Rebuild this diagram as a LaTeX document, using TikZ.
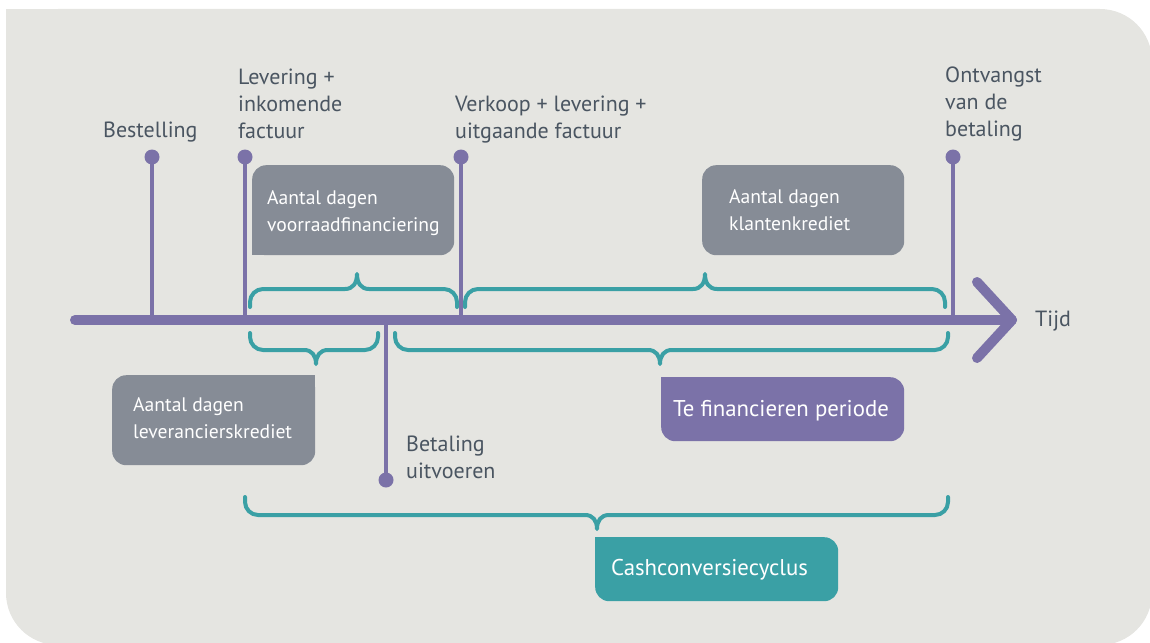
\documentclass[tikz,border=0pt]{standalone}
\usepackage{fontspec}
\setmainfont{PT Sans}
\definecolor{bgc}{HTML}{E5E5E1}
\definecolor{pur}{HTML}{7B72A8}
\definecolor{tl}{HTML}{3AA0A5}
\definecolor{gbox}{HTML}{868C96}
\definecolor{txt}{HTML}{4A5561}
% #1 left x, #2 right x, #3 tip x, #4 end y, #5 line y, #6 tip y, #7 signed corner radius (towards ends)
\newcommand\mybrace[7]{%
  \draw[brc] (#1,#4) -- (#1,{#5+#7})
    .. controls (#1,{#5+0.45*#7}) and ({#1+0.45*13},#5) .. ({#1+13},#5)
    -- ({#3-12},#5)
    .. controls ({#3-4},#5) and (#3,{#5+0.4*(#6-#5)}) .. (#3,#6)
    .. controls (#3,{#5+0.4*(#6-#5)}) and ({#3+4},#5) .. ({#3+12},#5)
    -- ({#2-13},#5)
    .. controls ({#2-0.45*13},#5) and (#2,{#5+0.45*#7}) .. (#2,{#5+#7})
    -- (#2,#4);}
\begin{document}
\begin{tikzpicture}[x=1pt,y=-1pt,
  lbl/.style={anchor=north west, inner sep=0pt, align=left, text=txt, font=\fontsize{22}{27}\selectfont},
  btxt/.style={anchor=west, inner sep=0pt, align=left, text=white, font=\fontsize{19.6}{27}\selectfont},
  ctxt/.style={anchor=west, inner sep=0pt, text=white, font=\fontsize{22.8}{27}\selectfont},
  gbx/.style={anchor=north west, fill=gbox, rounded corners=14pt, inner sep=0pt},
  brc/.style={draw=tl, line width=4pt, line cap=round, line join=round},
  vline/.style={draw=pur, line width=4pt},
  dot/.style={circle, fill=pur, minimum size=15pt, inner sep=0pt},
  axisline/.style={draw=pur, line width=10pt, line cap=round, line join=round}]
\useasboundingbox (0,0) rectangle (1150,642);
\begin{scope}
  \clip (0,0) rectangle (1150,642);
  \fill[bgc, rounded corners=52pt] (6,9) rectangle (1152,645);
  \fill[bgc] (6,9) rectangle (100,100);
\end{scope}

% boxes
\node[gbx, minimum width=202pt, minimum height=90pt] (vf) at (252,165) {};
\fill[gbox] (vf.south west) rectangle ++(16,-16);
\node[btxt] (vft) at ([xshift=15pt,yshift=-2.5pt]vf.west) {Aantal dagen\\voorraadfinanciering};

\node[gbx, minimum width=202pt, minimum height=90pt] (kk) at (702,165) {};
\node[btxt] (kkt) at ([xshift=27pt]kk.west) {Aantal dagen\\klantenkrediet};

\node[gbx, minimum width=203pt, minimum height=90pt] (lk) at (112,375) {};
\fill[gbox] (lk.north east) rectangle ++(-16,16);
\node[btxt] (lkt) at ([xshift=21pt,yshift=2.5pt]lk.west) {Aantal dagen\\leverancierskrediet};

\node[gbx, fill=pur, minimum width=243pt, minimum height=64pt] (tf) at (661,377) {};
\fill[pur] (tf.north west) rectangle ++(16,16);
\node[ctxt] (tft) at ([xshift=12pt,yshift=-1.5pt]tf.west) {Te financieren periode};

\node[gbx, fill=tl, minimum width=243pt, minimum height=64pt] (cc) at (595,537) {};
\fill[tl] (cc.north west) rectangle ++(16,16);
\node[ctxt] (cct) at ([xshift=16pt,yshift=-1pt]cc.west) {Cashconversiecyclus};

% braces
\mybrace{250}{457}{357}{307}{289}{274}{13}
\mybrace{465}{945}{705}{307}{289}{274}{13}
\mybrace{250}{378}{316}{333}{350}{364}{-13}
\mybrace{395}{948}{660}{333}{350}{364}{-13}
\mybrace{245}{948}{597}{497}{515}{529}{-13}

% axis
\coordinate (ax0) at (75,320);
\coordinate (ax1) at (1012,320);
\coordinate (ch0) at (977,282);
\coordinate (ch1) at (977,358);
\coordinate (a1) at (152,320);
\coordinate (a2) at (245,320);
\coordinate (a3) at (461,320);
\coordinate (a4) at (953,320);
\coordinate (a5) at (386,320);

\node[dot] (d1) at (152,157) {};
\node[dot] (d2) at (245,157) {};
\node[dot] (d3) at (461,157) {};
\node[dot] (d4) at (953,157) {};
\node[dot] (d5) at (386,480) {};
\draw[vline] (d1.center) -- (a1);
\draw[vline] (d2.center) -- (a2);
\draw[vline] (d3.center) -- (a3);
\draw[vline] (d4.center) -- (a4);
\draw[vline] (a5) -- (d5.center);

\draw[axisline] (ax0) -- (ax1);
\draw[axisline] (ch0) -- (ax1) -- (ch1);

% labels
\node[lbl] (l1) at (103,122) {Bestelling};
\node[lbl] (l2) at (238,69) {Levering +\\inkomende\\factuur};
\node[lbl] (l3) at (455,96) {Verkoop + levering +\\uitgaande factuur};
\node[lbl] (l4) at (945,67) {Ontvangst\\van de\\betaling};
\node[lbl] (l5) at (406,436) {Betaling\\uitvoeren};
\node[lbl] (l6) at (1035,311) {Tijd};
\end{tikzpicture}
\end{document}
